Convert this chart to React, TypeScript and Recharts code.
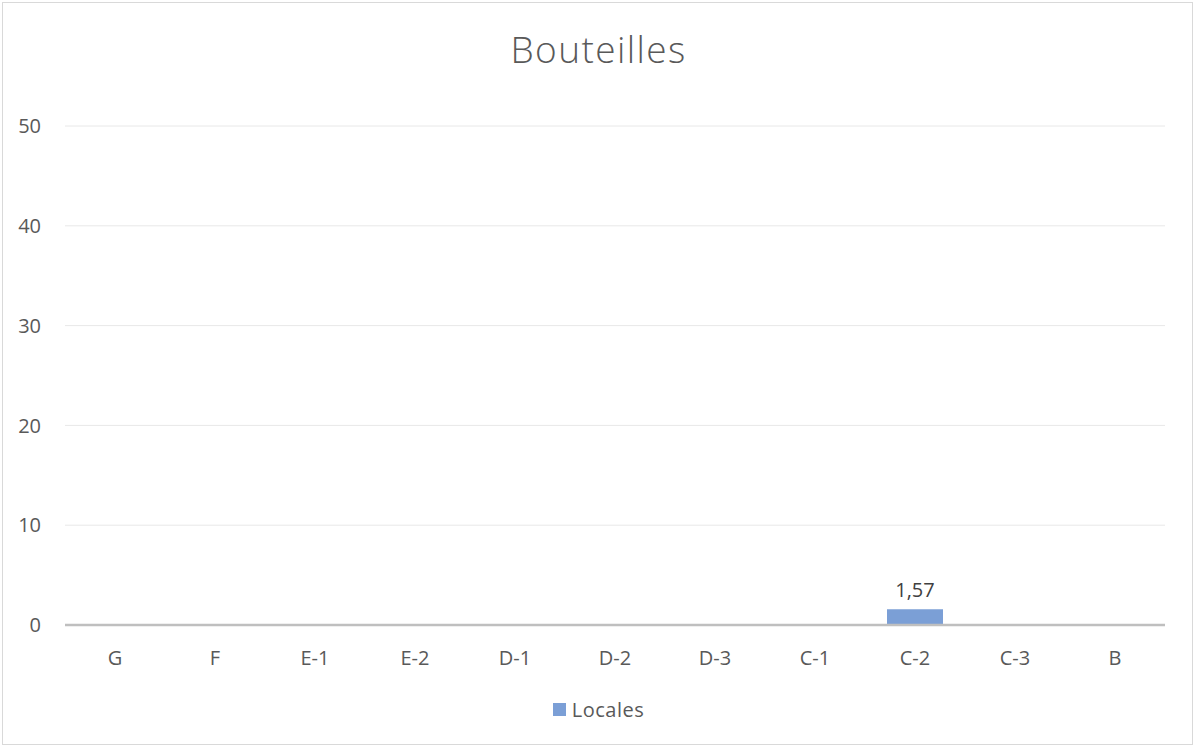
import { Bar, BarChart, CartesianGrid, LabelList, Legend, XAxis, YAxis } from 'recharts';

const categories = ['G', 'F', 'E-1', 'E-2', 'D-1', 'D-2', 'D-3', 'C-1', 'C-2', 'C-3', 'B'];
const locales = [0, 0, 0, 0, 0, 0, 0, 0, 1.57, 0, 0];
const yTicks = [0, 10, 20, 30, 40, 50];

const data = categories.map((c, i) => ({ name: c, locales: locales[i] }));

const font = '"Open Sans", "Noto Sans", sans-serif';
const grey = '#595959';

function LegendContent() {
  return (
    <div style={{ display: 'flex', justifyContent: 'center', alignItems: 'center', height: 28, fontFamily: font, fontSize: 20, color: grey }}>
      <span style={{ width: 13, height: 13, background: '#7b9fd6', marginRight: 6, display: 'inline-block' }} />
      <span style={{ letterSpacing: 0.5 }}>Locales</span>
    </div>
  );
}

export default function App() {
  return (
    <div
      style={{
        position: 'absolute',
        left: 0,
        top: 0,
        width: 1197,
        height: 749,
        background: '#fff',
        fontFamily: font,
      }}
    >
      <div
        style={{
          position: 'absolute',
          left: 2,
          top: 2,
          width: 1191,
          height: 743,
          border: '1.5px solid #d9d9d9',
          boxSizing: 'border-box',
        }}
      />
      <div
        style={{
          position: 'absolute',
          left: 0,
          top: 24,
          width: 1197,
          lineHeight: '50px',
          textAlign: 'center',
          fontSize: 37,
          fontWeight: 300,
          color: grey,
          letterSpacing: 1.4,
        }}
      >
        Bouteilles
      </div>
      <BarChart
        width={1197}
        height={749}
        data={data}
        margin={{ top: 126, right: 32, left: 0, bottom: 66 }}
        style={{ position: 'absolute', left: 0, top: 0 }}
      >
        <CartesianGrid vertical={false} stroke="#e8e8e8" />
        <XAxis
          dataKey="name"
          tickLine={false}
          axisLine={{ stroke: '#bfbfbf', strokeWidth: 2.5 }}
          tick={{ fill: grey, fontSize: 20, fontFamily: font }}
          tickMargin={20}
          height={30}
        />
        <YAxis
          domain={[0, 50]}
          ticks={yTicks}
          width={65}
          axisLine={false}
          tickLine={false}
          tickMargin={18}
          tick={{ fill: grey, fontSize: 20, fontFamily: font }}
        />
        <Legend
          verticalAlign="bottom"
          content={<LegendContent />}
          wrapperStyle={{ position: 'absolute', left: 0, top: 695, width: 1197, height: 28 }}
        />
        <Bar dataKey="locales" name="Locales" fill="#7b9fd6" barSize={56} isAnimationActive={false}>
          <LabelList
            dataKey="locales"
            position="top"
            offset={12}
            fill="#404040"
            fontSize={20}
            fontFamily={font}
            formatter={(v: any) => (v ? String(v).replace('.', ',') : '')}
          />
        </Bar>
      </BarChart>
    </div>
  );
}
